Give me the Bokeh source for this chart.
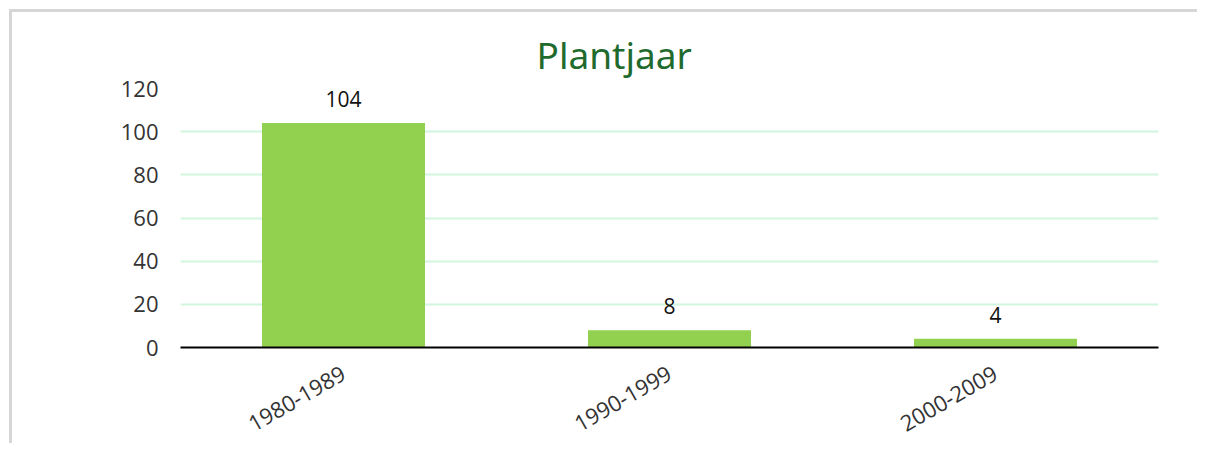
from bokeh.plotting import figure
from bokeh.models import ColumnDataSource, LabelSet, FactorRange
from bokeh.core.properties import value
from bokeh.embed import file_html
from bokeh.resources import INLINE

categories = ["1980-1989", "1990-1999", "2000-2009"]
counts = [104, 8, 4]
y_ticks = [0, 20, 40, 60, 80, 100, 120]
title_text = "Plantjaar"

src = ColumnDataSource(dict(cat=categories, val=counts, lbl=[str(v) for v in counts]))

p = figure(x_range=FactorRange(*categories), y_range=(0, 120),
           width=1188, height=434, output_backend="svg", toolbar_location=None,
           min_border_left=168, min_border_right=42, min_border_top=76, min_border_bottom=99,
           styles={"border-left": "3px solid #d6d6d6", "border-top": "3px solid #d6d6d6",
                   "margin-left": "9px", "margin-top": "9px"})
p.outline_line_color = None
p.background_fill_color = "white"

p.title.text = title_text
p.title.align = "left"
p.title.offset = 356
p.title.text_font = "Noto Sans"
p.title.text_font_style = "normal"
p.title.text_font_size = "37px"
p.title.text_color = "#1f6b2d"
p.title.standoff = 18

p.vbar(x="cat", top="val", width=0.5, source=src, fill_color="#92d050", line_color=None)

labels = LabelSet(x="cat", y="val", text="lbl", source=src, text_align="center",
                  text_baseline="bottom", y_offset=16, text_font_size=value("21px"),
                  text_font=value("Open Sans"), text_color="#111111")
p.add_layout(labels)

p.yaxis.ticker = y_ticks
p.yaxis.axis_line_color = None
p.yaxis.major_tick_line_color = None
p.yaxis.minor_tick_line_color = None
p.yaxis.major_label_text_font = "Open Sans"
p.yaxis.major_label_text_font_size = "22px"
p.yaxis.major_label_text_color = "#333333"
p.yaxis.major_label_standoff = 16

p.xaxis.axis_line_color = "black"
p.xaxis.axis_line_width = 2
p.xaxis.major_tick_line_color = None
p.xaxis.minor_tick_line_color = None
p.xaxis.major_label_orientation = 0.5236
p.xaxis.major_label_text_font = "Open Sans"
p.xaxis.major_label_text_font_size = "22px"
p.xaxis.major_label_text_color = "#333333"
p.xaxis.major_label_standoff = 18

p.xgrid.grid_line_color = None
p.ygrid.grid_line_color = "#d2f5de"
p.ygrid.grid_line_width = 2

open("out.html", "w").write(file_html(p, INLINE))
